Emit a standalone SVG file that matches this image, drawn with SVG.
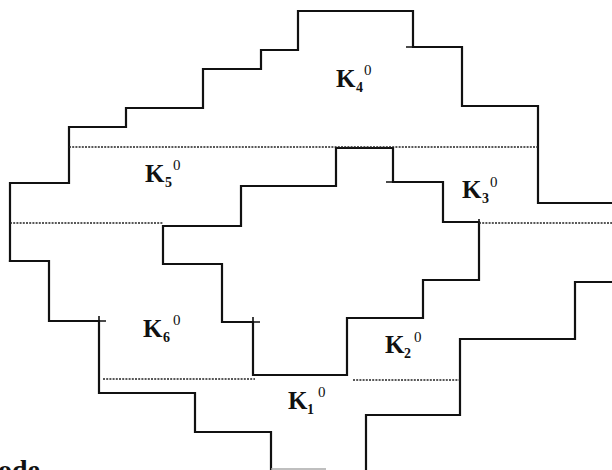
<svg xmlns="http://www.w3.org/2000/svg" width="612" height="470" viewBox="0 0 612 470">
<style>
.s{fill:none;stroke:#111;stroke-width:2.2;stroke-linecap:square;stroke-linejoin:miter}
.t{fill:none;stroke:#111;stroke-width:1.6}
.d{fill:none;stroke:#222;stroke-width:1.5;stroke-dasharray:2 1.2}
.k{font-family:"Liberation Serif","Times New Roman",serif;font-weight:bold;font-size:25px;fill:#111}
.sb{font-family:"Liberation Serif","Times New Roman",serif;font-weight:bold;font-size:14px;fill:#111}
.sp{font-family:"Liberation Serif","Times New Roman",serif;font-size:15px;fill:#111}
</style>
<rect width="612" height="470" fill="#fff"/>
<g id="connectors">
<path class="s" d="M10,261 V183 H69 V127 H126 V108 H203 V69 H261 V50 H298 V11 H413 V47 H462 V106 H538 V203 H612"/>
<path class="s" d="M10,261 H49 V321 H99 V393 H195 V432 H271 V470"/>
<path class="s" d="M612,282 H575 V339 H460 V415 H366 V470"/>
<path class="s" d="M163,226 H241 V186 H336 V148 H393 V182 H443 V222 H479 V280 H423 V318 H347 V375 H253 V322 H222 V264 H163 Z"/>
<path class="t" d="M406,47 H413 M99,316 V321 H106 M386,182 H393 M253,317 V322 H260 M479,219 V222"/>
<path class="d" d="M69,147 H538 M10,223 H163 M479,223 H612 M103,379 H255 M353,380 H460"/>
<path d="M271,469 H326" stroke="#aaa" stroke-width="1.5"/>
</g>
<g id="K4"><text class="k" x="336" y="87">K</text><text class="sb" x="356" y="92">4</text><text class="sp" x="364" y="75">0</text></g>
<g id="K5"><text class="k" x="145" y="182">K</text><text class="sb" x="165" y="187">5</text><text class="sp" x="173" y="170">0</text></g>
<g id="K3"><text class="k" x="462" y="198">K</text><text class="sb" x="482" y="203">3</text><text class="sp" x="490" y="187">0</text></g>
<g id="K6"><text class="k" x="143" y="337">K</text><text class="sb" x="163" y="342">6</text><text class="sp" x="173" y="325">0</text></g>
<g id="K2"><text class="k" x="385" y="353">K</text><text class="sb" x="404" y="358">2</text><text class="sp" x="414" y="342">0</text></g>
<g id="K1"><text class="k" x="288" y="409">K</text><text class="sb" x="307" y="414">1</text><text class="sp" x="318" y="397">0</text></g>
<g id="caption"><text x="-2" y="479" font-family="Liberation Serif,'Times New Roman',serif" font-weight="bold" font-size="28" fill="#111">ode</text></g>
</svg>
